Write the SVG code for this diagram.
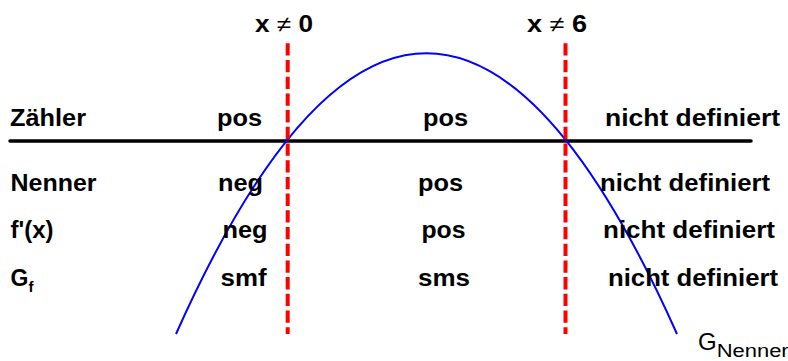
<svg xmlns="http://www.w3.org/2000/svg" width="788" height="361" viewBox="0 0 788 361">
<style>
.t{font-family:"Liberation Sans",Arial,sans-serif;font-weight:bold;font-size:23px;fill:#000}
.n{font-family:"Liberation Sans",Arial,sans-serif;font-weight:normal;fill:#000}
.ne{font-weight:normal}
.asym{stroke:#ff0000;stroke-width:4;stroke-dasharray:12.3 4.4;fill:none}
</style>
<rect width="788" height="361" fill="#fff"/>
<g id="axis">
<line x1="10" y1="141" x2="751" y2="141" stroke="#000" stroke-width="3.5" stroke-linecap="round"/>
</g>
<g id="parabola">
<path d="M176,334 Q426.5,-227.6 677,334" fill="none" stroke="#0000ff" stroke-width="2"/>
</g>
<g id="asymptotes">
<line class="asym" x1="287.7" y1="43.3" x2="287.7" y2="334"/>
<line class="asym" x1="565.5" y1="43.3" x2="565.5" y2="334"/>
</g>
<g id="headers">
<text class="t" x="255" y="32" textLength="58" lengthAdjust="spacingAndGlyphs">x <tspan class="ne">≠</tspan> 0</text>
<text class="t" x="527" y="32" textLength="60" lengthAdjust="spacingAndGlyphs">x <tspan class="ne">≠</tspan> 6</text>
</g>
<g id="row-zaehler">
<text class="t" x="10" y="126" textLength="76" lengthAdjust="spacingAndGlyphs">Zähler</text>
<text class="t" x="217" y="126" textLength="45" lengthAdjust="spacingAndGlyphs">pos</text>
<text class="t" x="423" y="126" textLength="45" lengthAdjust="spacingAndGlyphs">pos</text>
<text class="t" x="605" y="126" textLength="175" lengthAdjust="spacingAndGlyphs">nicht definiert</text>
</g>
<g id="row-nenner">
<text class="t" x="10.5" y="190.5" textLength="86" lengthAdjust="spacingAndGlyphs">Nenner</text>
<text class="t" x="218" y="190.5" textLength="45" lengthAdjust="spacingAndGlyphs">neg</text>
<text class="t" x="418" y="190.5" textLength="45" lengthAdjust="spacingAndGlyphs">pos</text>
<text class="t" x="600" y="190.5" textLength="170" lengthAdjust="spacingAndGlyphs">nicht definiert</text>
</g>
<g id="row-fprime">
<text class="t" x="10.5" y="238" textLength="43" lengthAdjust="spacingAndGlyphs">f'(x)</text>
<text class="t" x="222.5" y="238" textLength="45" lengthAdjust="spacingAndGlyphs">neg</text>
<text class="t" x="421.5" y="238" textLength="44" lengthAdjust="spacingAndGlyphs">pos</text>
<text class="t" x="603" y="238" textLength="172" lengthAdjust="spacingAndGlyphs">nicht definiert</text>
</g>
<g id="row-gf">
<text class="t" x="10.5" y="286">G<tspan font-size="15" dy="6">f</tspan></text>
<text class="t" x="220.5" y="286" textLength="46" lengthAdjust="spacingAndGlyphs">smf</text>
<text class="t" x="418" y="286" textLength="52" lengthAdjust="spacingAndGlyphs">sms</text>
<text class="t" x="608" y="286" textLength="170" lengthAdjust="spacingAndGlyphs">nicht definiert</text>
</g>
<g id="label-gnenner">
<text class="n" x="698" y="350" font-size="24">G<tspan font-size="18" dy="7" textLength="72" lengthAdjust="spacingAndGlyphs">Nenner</tspan></text>
</g>
</svg>
